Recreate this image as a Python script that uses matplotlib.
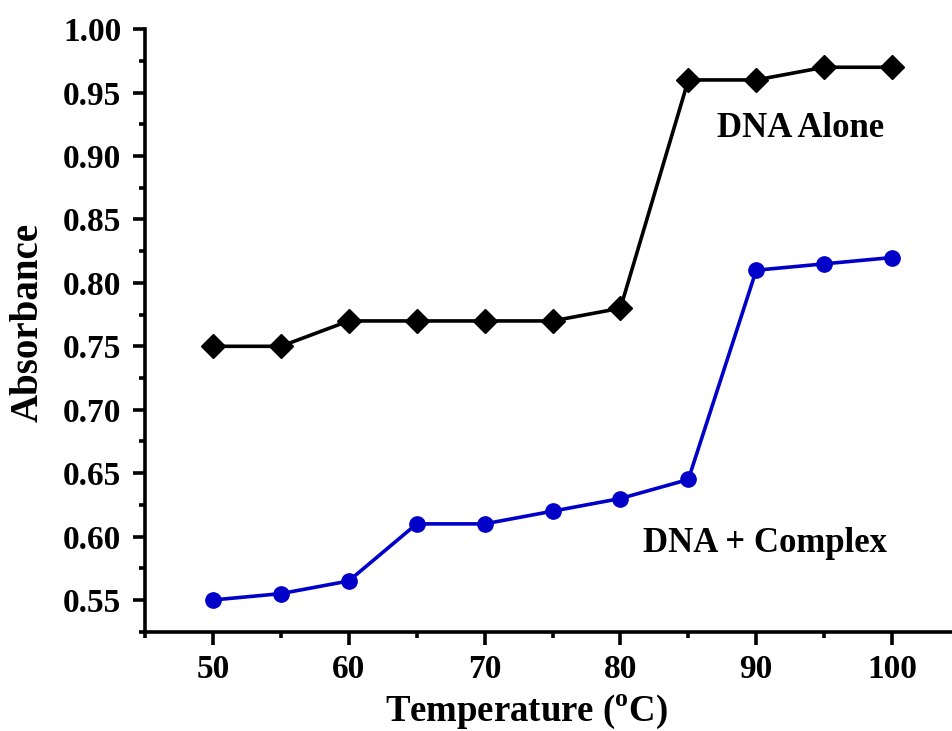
import matplotlib
matplotlib.use("Agg")
import matplotlib.pyplot as plt
from matplotlib.ticker import MultipleLocator, FormatStrFormatter

plt.rcParams['font.family'] = ['Liberation Serif', 'DejaVu Serif']
plt.rcParams['font.weight'] = 'bold'
plt.rcParams['mathtext.fontset'] = 'custom'
plt.rcParams['mathtext.rm'] = 'Liberation Serif:bold'
plt.rcParams['mathtext.bf'] = 'Liberation Serif:bold'

temperature = [50, 55, 60, 65, 70, 75, 80, 85, 90, 95, 100]
dna_alone = [0.75, 0.75, 0.77, 0.77, 0.77, 0.77, 0.78, 0.96, 0.96, 0.97, 0.97]
dna_complex = [0.55, 0.555, 0.565, 0.61, 0.61, 0.62, 0.63, 0.645, 0.81, 0.815, 0.82]

fig = plt.figure(figsize=(9.52, 7.31), dpi=100)
ax = fig.add_axes([145/952, 99.3/731, 815/952, 602.5/731])

ax.plot(temperature, dna_alone, color='black', lw=2.6, marker='D', ms=12, clip_on=False)
ax.plot(temperature, dna_complex, color='#0000c8', lw=2.6, marker='o', ms=11, clip_on=False)

# curve labels
ax.text(93.23, 0.915, 'DNA Alone', fontsize=25, fontweight='bold', ha='center', va='baseline')
ax.text(90.65, 0.5876, 'DNA + Complex', fontsize=25, fontweight='bold', ha='center', va='baseline')

ax.set_xlim(45, 105)
ax.set_ylim(0.525, 1.0)
ax.xaxis.set_major_locator(MultipleLocator(10))
ax.xaxis.set_minor_locator(MultipleLocator(5))
ax.yaxis.set_major_locator(MultipleLocator(0.05))
ax.yaxis.set_minor_locator(MultipleLocator(0.025))
ax.yaxis.set_major_formatter(FormatStrFormatter('%.2f'))

for s in ['top', 'right']:
    ax.spines[s].set_visible(False)
for s in ['left', 'bottom']:
    ax.spines[s].set_linewidth(2.6)

ax.tick_params(which='major', direction='out', length=9, width=2.6, labelsize=24)
ax.tick_params(axis='y', which='major', pad=8)
ax.tick_params(axis='x', which='major', pad=7)
ax.tick_params(which='minor', direction='out', length=4.5, width=2.6)
for lab in ax.get_xticklabels() + ax.get_yticklabels():
    lab.set_fontweight('bold')

fig.text(527/952, 1 - 721/731, r'Temperature ($^{\mathbf{o}}$C)', fontsize=26.5,
         fontweight='bold', ha='center', va='baseline')
fig.text(28/952, 1 - 322.5/731, 'Absorbance', fontsize=28, fontweight='bold',
         rotation=90, ha='center', va='center')

fig.savefig('out.png', dpi=100)
